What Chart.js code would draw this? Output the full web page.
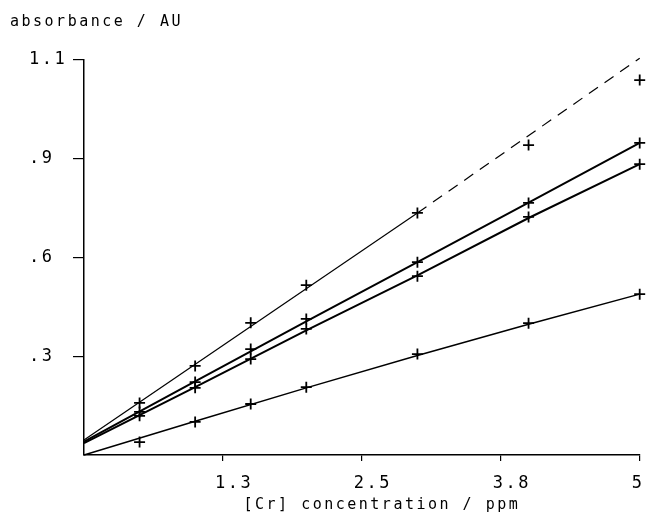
<!DOCTYPE html>
<html>
<head>
<meta charset="utf-8">
<script src="https://cdn.jsdelivr.net/npm/chart.js@4"></script>
<style>
  html, body { margin: 0; padding: 0; background: #fff; }
  #wrap { width: 647px; height: 522px; position: relative; }
</style>
</head>
<body>
<div id="wrap"><canvas id="c"></canvas></div>
<script>
// ---- data ----
const concentrations = [0.5, 1, 1.5, 2, 3, 4, 5];
const seriesA = [0.145, 0.248, 0.368, 0.473, 0.674, 0.863, 1.044];
const seriesB = [0.120, 0.203, 0.295, 0.379, 0.537, 0.702, 0.869];
const seriesC = [0.109, 0.187, 0.267, 0.351, 0.498, 0.663, 0.810];
const seriesD = [0.036, 0.092, 0.142, 0.189, 0.281, 0.367, 0.448];

// fitted lines
const fitAX = [0, 3];
const fitAY = [0.042, 0.674];
const extAX = [3, 5];
const extAY = [0.674, 1.105];
const fitX = [0, 1, 2, 3, 4, 5];
const fitBY = [0.037, 0.205, 0.372, 0.537, 0.703, 0.869];
const fitCY = [0.033, 0.189, 0.347, 0.500, 0.660, 0.810];
const fitDY = [0, 0.094, 0.187, 0.277, 0.364, 0.448];

// axis tick labels
const xTickLabels = ["", "1.3", "2.5", "3.8", "5"];
const yTickLabels = ["", ".3", ".6", ".9", "1.1"];
const xTitle = "[Cr] concentration / ppm";
const yTitle = "absorbance / AU";

const pts = (xs, ys) => xs.map((x, i) => ({x: x, y: ys[i]}));
const FONT = "'DejaVu Sans Mono', 'Liberation Mono', monospace";
const INK = '#000';

const spacingPlugin = {
  id: 'spacing',
  beforeLayout(chart) { chart.ctx.letterSpacing = '2.5px'; },
  beforeDraw(chart) { chart.ctx.letterSpacing = '2.5px'; }
};
const axisTweaks = {
  id: 'axisTweaks',
  afterLayout(chart) {
    chart.scales.y.left = 29;
    const sx = chart.scales.x;
    if (!sx._titleShifted) {
      const orig = sx.drawTitle;
      sx.drawTitle = function () {
        const l = this.left;
        this.left = l + 40;
        orig.call(this);
        this.left = l;
      };
      sx._titleShifted = true;
    }
  }
};

const markerDs = (label, ys) => ({
  type: 'scatter', label: label, data: pts(concentrations, ys),
  showLine: false, pointStyle: 'cross', pointRadius: 5.5, pointBorderWidth: 1.8,
  pointBorderColor: INK, pointBackgroundColor: INK, clip: false
});
const lineDs = (label, xs, ys, w, dash) => ({
  type: 'line', label: label, data: pts(xs, ys),
  borderColor: INK, borderWidth: w, borderDash: dash || [], pointRadius: 0,
  fill: false, tension: 0, clip: false
});

new Chart(document.getElementById('c'), {
  type: 'scatter',
  data: {
    datasets: [
      markerDs('A', seriesA),
      markerDs('B', seriesB),
      markerDs('C', seriesC),
      markerDs('D', seriesD),
      lineDs('A fit', fitAX, fitAY, 1.2),
      lineDs('A extrapolated', extAX, extAY, 1.2, [11, 8]),
      lineDs('B fit', fitX, fitBY, 2),
      lineDs('C fit', fitX, fitCY, 2),
      lineDs('D fit', fitX, fitDY, 1.5)
    ]
  },
  options: {
    responsive: true,
    maintainAspectRatio: false,
    animation: false,
    layout: { padding: { left: 10, right: 5, top: 0, bottom: 8 } },
    plugins: {
      legend: { display: false },
      tooltip: { enabled: false },
      title: {
        display: true, text: yTitle, align: 'start', color: INK,
        font: { family: FONT, size: 15, weight: 'normal' },
        padding: { top: 13, bottom: 29 }
      }
    },
    scales: {
      x: {
        type: 'linear', min: 0, max: 5,
        ticks: {
          stepSize: 1.25, align: 'start', labelOffset: -8, padding: 12.8,
          color: INK, font: { family: FONT, size: 17 }, maxRotation: 0, autoSkip: false,
          callback: (v, i) => xTickLabels[i]
        },
        grid: {
          drawOnChartArea: false, drawTicks: true, tickLength: 6, lineWidth: 1.2,
          color: (ctx) => ctx.index === 0 ? 'rgba(0,0,0,0)' : INK
        },
        border: { display: true, color: INK, width: 1.5 },
        title: {
          display: true, text: xTitle, color: INK,
          font: { family: FONT, size: 15, weight: 'normal' },
          padding: { top: -11, bottom: 0 }
        },
        afterFit: (s) => { s.paddingRight = 4; s.paddingLeft = 0; }
      },
      y: {
        type: 'linear', min: 0, max: 1.1,
        ticks: {
          stepSize: 0.275, crossAlign: 'far', padding: 10,
          color: INK, font: { family: FONT, size: 17 }, autoSkip: false,
          callback: (v, i) => yTickLabels[i]
        },
        grid: {
          drawOnChartArea: false, drawTicks: true, tickLength: 11, lineWidth: 1.2,
          color: (ctx) => ctx.index === 0 ? 'rgba(0,0,0,0)' : INK
        },
        border: { display: true, color: INK, width: 1.5 },
        afterFit: (s) => { s.width = 74; }
      }
    }
  },
  plugins: [spacingPlugin, axisTweaks]
});
</script>
</body>
</html>
